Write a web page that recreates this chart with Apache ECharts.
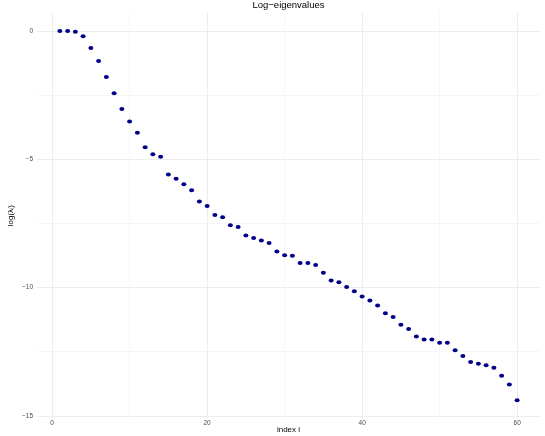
<!DOCTYPE html>
<html>
<head>
<meta charset="utf-8">
<script src="https://cdn.jsdelivr.net/npm/echarts@6/dist/echarts.min.js"></script>
<style>
html,body{margin:0;padding:0;background:#fff;}
#chart{width:545px;height:436px;}
</style>
</head>
<body>
<div id="chart"></div>
<script>
// index i
const indices = Array.from({length: 60}, (_, k) => k + 1);
// log eigenvalues
const logEigen = [
  0.00, 0.00, -0.03, -0.21, -0.66, -1.17, -1.79, -2.43, -3.04, -3.53,
  -3.97, -4.53, -4.80, -4.90, -5.59, -5.76, -5.97, -6.21, -6.65, -6.82,
  -7.17, -7.26, -7.57, -7.64, -7.97, -8.07, -8.17, -8.26, -8.59, -8.74,
  -8.76, -9.04, -9.04, -9.12, -9.42, -9.72, -9.79, -9.98, -10.14, -10.35,
  -10.50, -10.70, -11.00, -11.15, -11.45, -11.61, -11.91, -12.02, -12.02, -12.15,
  -12.15, -12.44, -12.67, -12.90, -12.97, -13.03, -13.12, -13.44, -13.78, -14.39
];
const xTickLabels = [0, 20, 40, 60];
const yTickLabels = [0, -5, -10, -15];

const MAJOR = '#ebebeb', MINOR = '#f5f5f5', NONE = 'rgba(0,0,0,0)';
const xr = [Math.min(...indices), Math.max(...indices)];
const yr = [Math.min(...logEigen), Math.max(...logEigen)];
const xpad = (xr[1] - xr[0]) * 0.05, ypad = (yr[1] - yr[0]) * 0.05;
const fmt = v => String(v).replace('-', '\u2212');

const chart = echarts.init(document.getElementById('chart'), null, {renderer: 'canvas'});
chart.setOption({
  backgroundColor: '#ffffff',
  animation: false,
  title: {
    text: 'Log\u2212eigenvalues',
    left: 288.5, textAlign: 'center', top: 0, padding: 0,
    textStyle: {fontFamily: 'Liberation Sans', fontSize: 9.5, fontWeight: 'normal', color: '#000'}
  },
  grid: {left: 37, right: 5, top: 12.5, bottom: 17.3, containLabel: false, outerBoundsMode: 'none'},
  xAxis: {
    type: 'value',
    min: xr[0] - xpad, max: xr[1] + xpad,
    minInterval: 10, maxInterval: 10,
    name: 'index i', nameLocation: 'middle', nameGap: 7, nameMoveOverlap: false,
    nameTextStyle: {fontFamily: 'Liberation Sans', fontSize: 8, color: '#000'},
    axisLine: {show: false}, axisTick: {show: false},
    axisLabel: {
      margin: 1.5, fontFamily: 'Liberation Sans', fontSize: 6.5, color: '#4d4d4d',
      formatter: v => xTickLabels.includes(Math.round(v * 1000) / 1000) ? fmt(v) : ''
    },
    splitLine: {show: true, lineStyle: {width: 0.9, color: [NONE, MAJOR, MINOR, MAJOR, MINOR, MAJOR, MINOR, MAJOR, NONE]}}
  },
  yAxis: {
    type: 'value',
    min: yr[0] - ypad, max: yr[1] + ypad,
    minInterval: 2.5, maxInterval: 2.5,
    name: 'log(\u03bb\u1d62)', nameLocation: 'middle', nameGap: 22, nameRotate: 90, nameMoveOverlap: false,
    nameTextStyle: {fontFamily: 'Liberation Sans', fontSize: 8, color: '#000'},
    axisLine: {show: false}, axisTick: {show: false},
    axisLabel: {
      margin: 4, fontFamily: 'Liberation Sans', fontSize: 6.5, color: '#4d4d4d',
      formatter: v => yTickLabels.includes(Math.round(v * 1000) / 1000) ? fmt(v) : ''
    },
    splitLine: {show: true, lineStyle: {width: 0.9, color: [NONE, MAJOR, MINOR, MAJOR, MINOR, MAJOR, MINOR, MAJOR, NONE]}}
  },
  series: [{
    type: 'scatter',
    data: indices.map((x, k) => [x, logEigen[k]]),
    symbol: 'circle',
    symbolSize: [5, 4],
    itemStyle: {color: '#00008b', opacity: 1}
  }]
});
</script>
</body>
</html>
